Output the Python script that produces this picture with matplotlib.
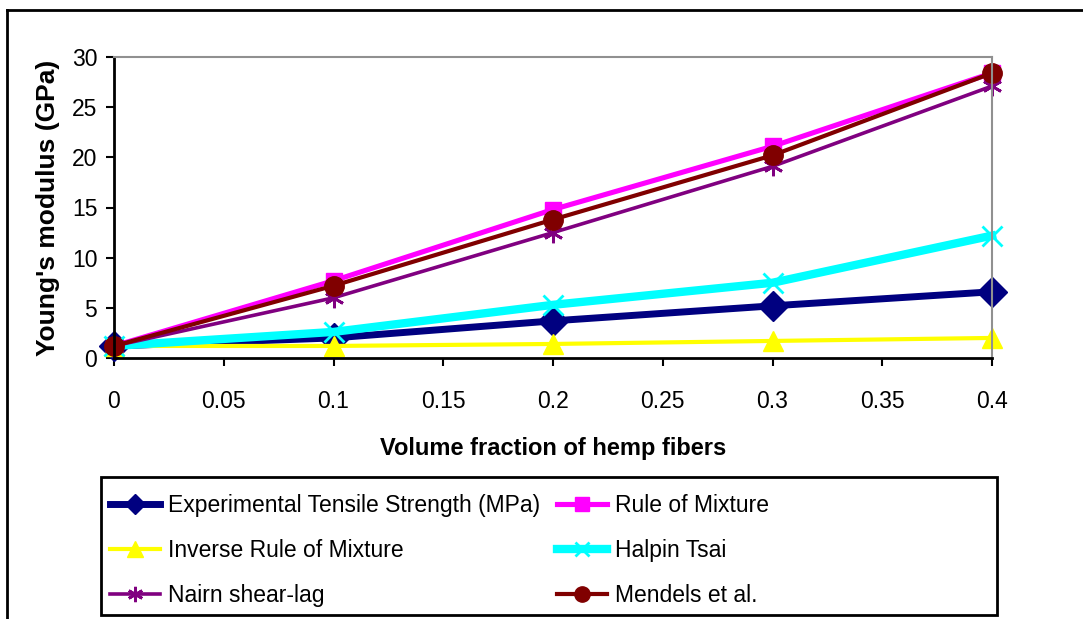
import matplotlib
matplotlib.use("Agg")
import matplotlib.pyplot as plt
from matplotlib.lines import Line2D
from matplotlib.patches import Rectangle

plt.rcParams['font.family'] = ['Liberation Sans', 'DejaVu Sans']

# data
fraction = [0, 0.1, 0.2, 0.3, 0.4]
experimental = [1.2, 2.0, 3.7, 5.2, 6.6]
rule_of_mixture = [1.2, 7.7, 14.8, 21.1, 28.4]
inverse_rule = [1.2, 1.2, 1.4, 1.7, 2.0]
halpin_tsai = [1.2, 2.6, 5.3, 7.5, 12.2]
nairn = [1.2, 6.0, 12.5, 19.1, 27.1]
mendels = [1.2, 7.2, 13.8, 20.2, 28.4]

xticks = [0, 0.05, 0.1, 0.15, 0.2, 0.25, 0.3, 0.35, 0.4]
xticklabels = ['0', '0.05', '0.1', '0.15', '0.2', '0.25', '0.3', '0.35', '0.4']

W, H = 1083, 619
fig = plt.figure(figsize=(W / 100, H / 100), dpi=100)
ax = fig.add_axes([114 / W, 1 - 358 / H, 878 / W, 301 / H])

# name, values, colour, marker, marker size, line width, legend marker size
series = [
    ("Experimental Tensile Strength (MPa)", experimental, '#000080', 'D', 15, 5, 10),
    ("Rule of Mixture", rule_of_mixture, '#FF00FF', 's', 12, 3.7, 10),
    ("Inverse Rule of Mixture", inverse_rule, '#FFFF00', '^', 14, 3, 12),
    ("Halpin Tsai", halpin_tsai, '#00FFFF', 'x', 15, 6, 10),
    ("Nairn shear-lag", nairn, '#800080', (6, 2, 0), 14, 2.6, 11),
    ("Mendels et al.", mendels, '#800000', 'o', 14, 3, 11),
]

handles = {}
for name, vals, color, marker, ms, lw, lms in series:
    mew = 2 if marker == 'x' or isinstance(marker, tuple) else 1
    ax.plot(fraction, vals, color=color, lw=lw, marker=marker, ms=ms,
            mec=color, mfc=color, mew=mew, clip_on=False)
    handles[name] = Line2D([], [], color=color, lw=lw, marker=marker, ms=lms,
                           mec=color, mfc=color, mew=mew)

ax.set_xlim(0, 0.4)
ax.set_ylim(0, 30)
ax.set_xticks(xticks)
ax.set_xticklabels(xticklabels)
ax.set_yticks(range(0, 31, 5))
ax.tick_params(axis='both', direction='out', length=6, width=1.5, labelsize=16.5)
ax.tick_params(axis='x', pad=17)
ax.tick_params(axis='y', pad=6)

for s in ['left', 'bottom']:
    ax.spines[s].set_color('black')
    ax.spines[s].set_linewidth(2)
for s in ['top', 'right']:
    ax.spines[s].set_color('#909090')
    ax.spines[s].set_linewidth(1.5)

ax.set_xlabel("Volume fraction of hemp fibers", fontsize=17, fontweight='bold')
ax.set_ylabel("Young's modulus (GPa)", fontsize=19, fontweight='bold')
ax.xaxis.set_label_coords((553 - 114) / 878, (358 - 448) / 301)
ax.xaxis.label.set_va('center')
ax.yaxis.set_label_coords((48 - 114) / 878, 0.5)
ax.yaxis.label.set_va('center')

order = ["Experimental Tensile Strength (MPa)", "Inverse Rule of Mixture", "Nairn shear-lag",
         "Rule of Mixture", "Halpin Tsai", "Mendels et al."]
leg = fig.legend([handles[n] for n in order], order, loc='upper left', ncol=2,
                 bbox_to_anchor=(110 / W, 1 - 494 / H), frameon=False, fontsize=16.5,
                 handlelength=2.2, handletextpad=0.35, labelspacing=0.95,
                 columnspacing=0.7, borderaxespad=0, borderpad=0)

# legend frame
fig.add_artist(Rectangle((101 / W, 1 - 615 / H), 896 / W, 138 / H, transform=fig.transFigure,
                         fill=False, edgecolor='black', lw=2))

# outer chart-area frame
fig.add_artist(Line2D([7 / W, 7 / W], [0, 1 - 10 / H], transform=fig.transFigure,
                      color='black', lw=2))
fig.add_artist(Line2D([7 / W, 1], [1 - 10 / H, 1 - 10 / H], transform=fig.transFigure,
                      color='black', lw=2))

fig.savefig("out.png", dpi=100)
